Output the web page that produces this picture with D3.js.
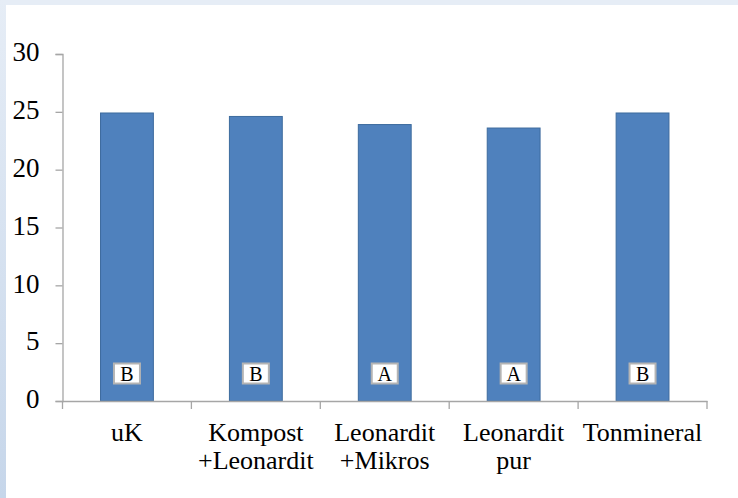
<!DOCTYPE html>
<html>
<head>
<meta charset="utf-8">
<script src="https://cdn.jsdelivr.net/npm/d3@7"></script>
<style>
  html, body { margin: 0; padding: 0; background: #ffffff; }
  svg { display: block; }
</style>
</head>
<body>
<svg id="chart" width="738" height="498"></svg>
<script>
const categories = [["uK"], ["Kompost", "+Leonardit"], ["Leonardit", "+Mikros"], ["Leonardit", "pur"], ["Tonmineral"]];
const values = [24.9, 24.6, 23.9, 23.6, 24.9];
const letters = ["B", "B", "A", "A", "B"];
const yTicks = [0, 5, 10, 15, 20, 25, 30];

const FONT = "'Liberation Serif'";
const W = 738, H = 498;
const margin = { left: 62.5, right: 31, top: 54, bottom: 97 };
const svg = d3.select("#chart");

// frame
const defs = svg.append("defs");
const grad = defs.append("linearGradient").attr("id", "lg").attr("x1", 0).attr("y1", 0).attr("x2", 0).attr("y2", 1);
grad.append("stop").attr("offset", "0%").attr("stop-color", "#e6edf6");
grad.append("stop").attr("offset", "100%").attr("stop-color", "#c6d6ea");
svg.append("rect").attr("x", 0).attr("y", 0).attr("width", W).attr("height", 5).attr("fill", "#e6edf6");
svg.append("rect").attr("x", 0).attr("y", 0).attr("width", 6).attr("height", H).attr("fill", "url(#lg)");

const idx = d3.range(categories.length);
const x = d3.scaleBand().domain(idx).range([margin.left, W - margin.right]).padding(0);
const y = d3.scaleLinear().domain([0, 30]).range([H - margin.bottom, margin.top]);
const barW = x.bandwidth() * 0.41;

// bars
svg.append("g").selectAll("rect").data(idx).join("rect")
  .attr("x", i => x(i) + (x.bandwidth() - barW) / 2)
  .attr("y", i => y(values[i]))
  .attr("width", barW)
  .attr("height", i => y(0) - y(values[i]))
  .attr("fill", "#4f81bd")
  .attr("stroke", "#3d6b9e")
  .attr("stroke-width", 1);

// letter boxes
const lb = svg.append("g").selectAll("g").data(idx).join("g")
  .attr("transform", i => `translate(${x(i) + x.bandwidth() / 2},${y(0) - 27})`);
lb.append("rect").attr("x", -13).attr("y", -10.5).attr("width", 26).attr("height", 20)
  .attr("fill", "#fff").attr("stroke", "#b4b4b4").attr("stroke-width", 2);
lb.append("text").attr("text-anchor", "middle").attr("y", 6.5)
  .style("font-family", FONT).style("font-size", "20px").style("fill", "#000")
  .text(i => letters[i]);

// y axis
const yAxis = d3.axisLeft(y).tickValues(yTicks).tickSize(7).tickPadding(16).tickFormat(d3.format("d"));
const gy = svg.append("g").attr("transform", `translate(${margin.left},0)`).call(yAxis);
gy.select(".domain").attr("stroke", "#a6a6a6").attr("stroke-width", 1.3);
gy.selectAll(".tick line").attr("stroke", "#a6a6a6").attr("stroke-width", 1.3);
gy.selectAll(".tick text").attr("dy", "0.25em")
  .style("font-family", FONT).style("font-size", "27px").style("fill", "#000");

// x axis
const xAxis = d3.axisBottom(x).tickSize(0).tickFormat(() => "");
const gx = svg.append("g").attr("transform", `translate(0,${y(0)})`).call(xAxis);
gx.select(".domain").attr("stroke", "#a6a6a6").attr("stroke-width", 1.6);
gx.selectAll(".tick").remove();
const bounds = idx.map(i => x(i)).concat([x(idx[idx.length - 1]) + x.bandwidth()]);
gx.selectAll("line.bt").data(bounds).join("line").attr("class", "bt")
  .attr("x1", d => d).attr("x2", d => d).attr("y1", 0).attr("y2", 8)
  .attr("stroke", "#a6a6a6").attr("stroke-width", 1.3);

// category labels
const cl = svg.append("g")
  .selectAll("text").data(idx).join("text")
  .attr("text-anchor", "middle")
  .style("font-family", FONT).style("font-size", "26px").style("fill", "#000")
  .attr("x", i => x(i) + x.bandwidth() / 2)
  .attr("y", y(0) + 40);
cl.selectAll("tspan").data(i => categories[i]).join("tspan")
  .attr("x", function () { return d3.select(this.parentNode).attr("x"); })
  .attr("dy", (d, j) => j === 0 ? 0 : 28)
  .text(d => d);
</script>
</body>
</html>
